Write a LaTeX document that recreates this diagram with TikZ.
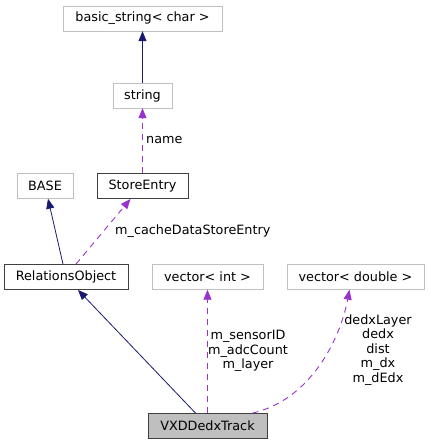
\documentclass[tikz,border=0pt]{standalone}
\usepackage{fontspec}
\setmainfont{DejaVu Sans}
\usetikzlibrary{arrows.meta}
\definecolor{edgeblue}{HTML}{191970}
\definecolor{edgepurple}{HTML}{9A32CD}
\definecolor{boxgray}{HTML}{BFBFBF}
\definecolor{boxdark}{HTML}{404040}
\tikzset{
  box/.style={draw=boxgray, fill=white, minimum height=25pt, inner sep=0pt, font=\fontsize{12.8}{14}\selectfont},
  docbox/.style={box, draw=boxdark, line width=0.9pt},
  curbox/.style={box, draw=boxdark, fill=boxgray, line width=0.9pt},
  inherit/.style={edgeblue, line width=0.8pt, -{Triangle[length=10pt,width=8pt]}},
  usage/.style={edgepurple, line width=0.9pt, dash pattern=on 6pt off 5pt, -{Triangle[length=10pt,width=8pt]}},
  lbl/.style={inner sep=0pt, font=\fontsize{12.8}{14.5}\selectfont, align=center}
}
\begin{document}
\begin{tikzpicture}[x=1pt, y=-1pt]
				\useasboundingbox (0,0) rectangle (429,445);
				% classes
				\node[box, minimum width=159pt] (bstr) at (142.5,18.5) {basic\_string< char >};
				\node[box, minimum width=59pt] (str) at (142.5,95.5) {string};
				\node[box, minimum width=56pt] (base) at (45,186) {BASE};
				\node[docbox, minimum width=91pt] (store) at (142.5,186) {StoreEntry};
				\node[docbox, minimum width=124pt] (rel) at (66,277) {RelationsObject};
				\node[box, minimum width=111pt] (vint) at (207.5,277) {vector< int >};
				\node[box, minimum width=137pt] (vdbl) at (355.5,277) {vector< double >};
				\node[curbox, minimum width=119pt] (vxd) at (207.5,426) {VXDDedxTrack};

				% inheritance
				\draw[inherit] (str) -- (bstr);
				\draw[inherit] ([xshift=-3pt]rel.north) -- ([xshift=3pt]base.south);
				\draw[inherit] ([xshift=-12pt]vxd.north) -- ([xshift=12pt]rel.south);

				% members
				\draw[usage] (store) -- (str);
				\draw[usage] ([xshift=10pt]rel.north) -- ([xshift=-12pt]store.south);
				\draw[usage] (vxd) -- (vint);
				\draw[usage] ([xshift=45pt]vxd.north) .. controls (310,400) and (340,340) .. ([xshift=-6pt]vdbl.south);

				% labels
				\node[lbl, anchor=west] (lname) at (146,140) {name};
				\node[lbl, anchor=west] (lcache) at (115,231) {m\_cacheDataStoreEntry};
				\node[lbl] (lint) at (248,351) {m\_sensorID\\m\_adcCount\\m\_layer};
				\node[lbl] (ldbl) at (378,350) {dedxLayer\\dedx\\dist\\m\_dx\\m\_dEdx};
			\end{tikzpicture}
\end{document}
